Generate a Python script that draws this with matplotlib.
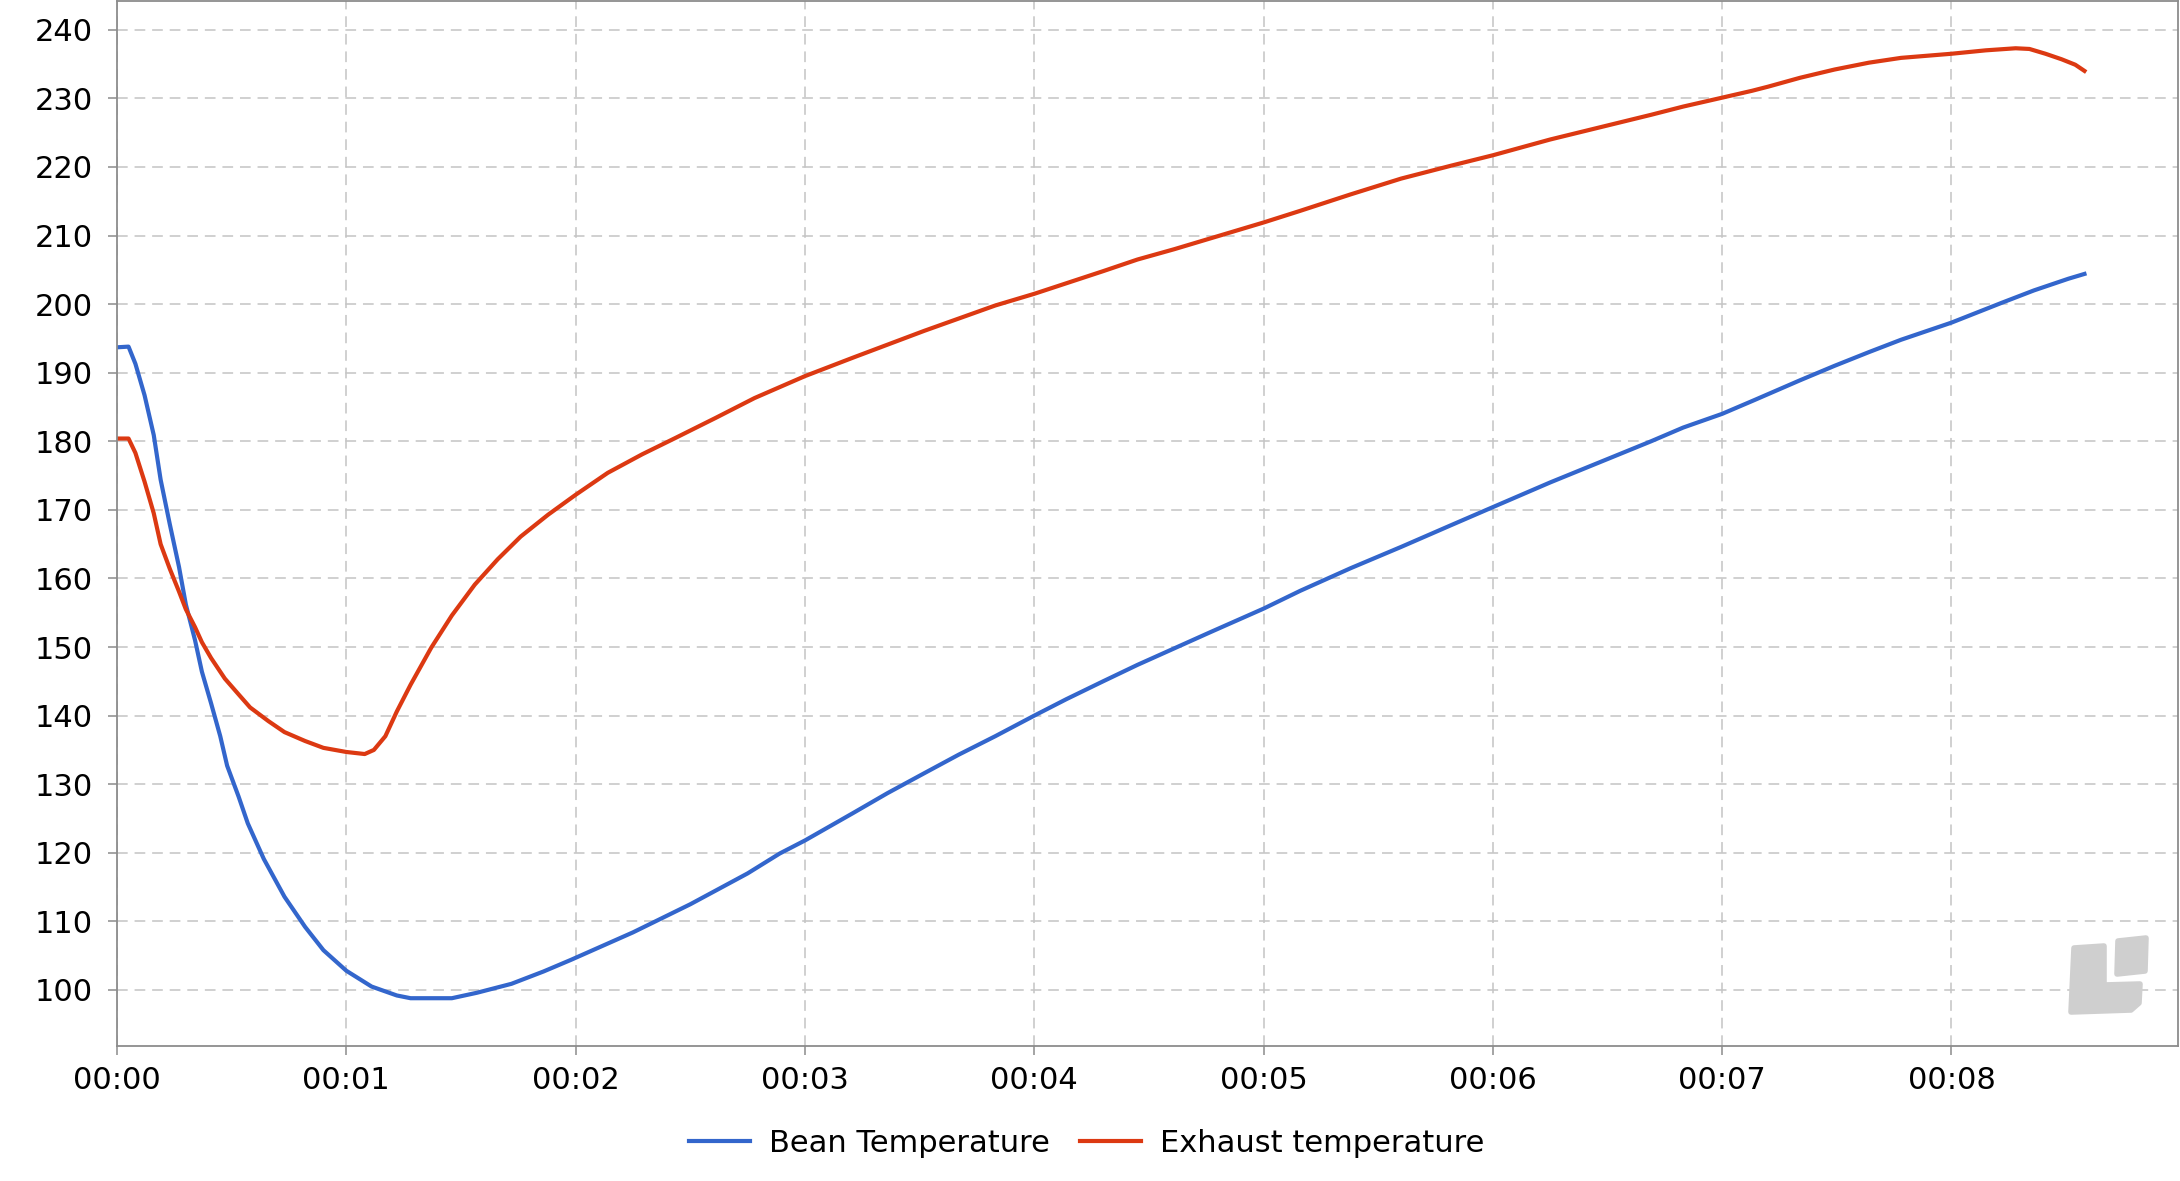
import matplotlib
matplotlib.use("Agg")
import matplotlib.pyplot as plt
from matplotlib.ticker import FixedLocator, FuncFormatter
from matplotlib.patches import Polygon

# roast log, time in minutes
bean_time = [0.0, 0.05, 0.08, 0.12, 0.16, 0.19, 0.23, 0.27, 0.30, 0.34, 0.37, 0.41,
             0.45, 0.48, 0.53, 0.57, 0.64, 0.73, 0.82, 0.90, 1.0, 1.11, 1.22, 1.28,
             1.46, 1.57, 1.72, 1.86, 1.98, 2.25, 2.5, 2.75, 2.89, 3.0, 3.21, 3.36,
             3.52, 3.67, 3.83, 4.0, 4.14, 4.30, 4.45, 4.61, 4.77, 5.0, 5.16, 5.38,
             5.60, 5.82, 6.0, 6.25, 6.47, 6.69, 6.83, 7.0, 7.14, 7.34, 7.49, 7.64,
             7.78, 8.0, 8.22, 8.36, 8.51, 8.58]
bean_temp = [193.7, 193.8, 191.3, 186.7, 180.9, 174.4, 167.9, 161.7, 156.2, 151.0,
             146.4, 141.8, 137.0, 132.7, 128.2, 124.3, 119.1, 113.6, 109.2, 105.8,
             102.8, 100.5, 99.2, 98.8, 98.8, 99.6, 100.9, 102.7, 104.4, 108.4, 112.5,
             117.0, 119.9, 121.8, 125.8, 128.7, 131.6, 134.3, 137.0, 140.0, 142.4,
             145.0, 147.4, 149.8, 152.2, 155.6, 158.2, 161.5, 164.6, 167.8, 170.4,
             174.0, 177.0, 180.0, 182.0, 184.0, 186.0, 188.9, 191.0, 193.0, 194.8,
             197.3, 200.2, 202.0, 203.7, 204.4]

exhaust_time = [0.0, 0.05, 0.08, 0.12, 0.16, 0.19, 0.23, 0.27, 0.30, 0.34, 0.37, 0.41,
                0.47, 0.53, 0.58, 0.66, 0.73, 0.82, 0.90, 1.0, 1.08, 1.12, 1.17, 1.22,
                1.28, 1.37, 1.46, 1.56, 1.66, 1.76, 1.88, 2.0, 2.14, 2.29, 2.43, 2.61,
                2.78, 2.89, 3.0, 3.21, 3.52, 3.83, 4.0, 4.30, 4.45, 4.61, 4.77, 5.0,
                5.16, 5.38, 5.60, 5.82, 6.0, 6.25, 6.47, 6.69, 6.83, 7.0, 7.13, 7.20,
                7.34, 7.49, 7.64, 7.78, 8.0, 8.15, 8.28, 8.34, 8.41, 8.48, 8.54, 8.58]
exhaust_temp = [180.4, 180.4, 178.3, 174.1, 169.5, 165.0, 161.4, 158.1, 155.5, 152.9,
                150.7, 148.4, 145.4, 143.1, 141.2, 139.2, 137.6, 136.3, 135.3, 134.7,
                134.4, 135.0, 137.0, 140.6, 144.5, 149.9, 154.6, 159.1, 162.8, 166.1,
                169.3, 172.2, 175.4, 178.1, 180.4, 183.4, 186.3, 187.9, 189.5, 192.2,
                196.1, 199.8, 201.5, 204.8, 206.5, 208.0, 209.6, 211.9, 213.6, 216.0,
                218.3, 220.2, 221.7, 224.0, 225.8, 227.6, 228.8, 230.1, 231.1, 231.7,
                233.0, 234.2, 235.2, 235.9, 236.5, 237.0, 237.3, 237.2, 236.5, 235.7,
                234.9, 234.0]

minute_ticks = [0, 1, 2, 3, 4, 5, 6, 7, 8]
temp_ticks = [100, 110, 120, 130, 140, 150, 160, 170, 180, 190, 200, 210, 220, 230, 240]

plt.rcParams['font.family'] = ['DejaVu Sans']
plt.rcParams['font.size'] = 22

fig = plt.figure(figsize=(21.8, 11.81), dpi=100)
ax = fig.add_axes([0.0537, 0.1147, 0.9456, 0.8845])

ax.plot(bean_time, bean_temp, color='#3366CC', lw=3, label='Bean Temperature')
ax.plot(exhaust_time, exhaust_temp, color='#DC3912', lw=3, label='Exhaust temperature')

ax.set_xlim(0, 8.99)
ax.set_ylim(91.9, 244.2)
ax.xaxis.set_major_locator(FixedLocator(minute_ticks))
ax.xaxis.set_major_formatter(FuncFormatter(lambda v, p: '00:%02d' % int(round(v))))
ax.yaxis.set_major_locator(FixedLocator(temp_ticks))

ax.grid(True, color='#c4c4c4', lw=1.1, ls=(0, (7, 4.5)))
ax.set_axisbelow(True)
for s in ax.spines.values():
    s.set_color('#8c8c8c')
    s.set_linewidth(1.3)
ax.tick_params(axis='both', colors='#8c8c8c', labelcolor='black', length=6.5, width=1.1)
ax.tick_params(axis='y', pad=11)
ax.tick_params(axis='x', pad=8)

# faint logo in the lower right corner
W, H = 2180.0, 1181.0
def fpts(pts):
    return [(x / W, 1 - y / H) for x, y in pts]
big = fpts([(2074, 948), (2104, 946), (2104, 985), (2140, 984), (2139, 1003),
            (2131, 1010), (2071, 1012)])
small = fpts([(2118, 941), (2146, 938), (2145, 971), (2117, 974)])
for pts in (big, small):
    fig.patches.append(Polygon(pts, closed=True, transform=fig.transFigure,
                               facecolor='#cfcfcf', edgecolor='#cfcfcf',
                               lw=4, joinstyle='round'))

fig.legend(loc='center', bbox_to_anchor=(0.4985, 0.032), ncol=2, frameon=False,
           handlelength=2.0, handletextpad=0.6, columnspacing=1.0, fontsize=22)

fig.savefig('out.png', dpi=100)
